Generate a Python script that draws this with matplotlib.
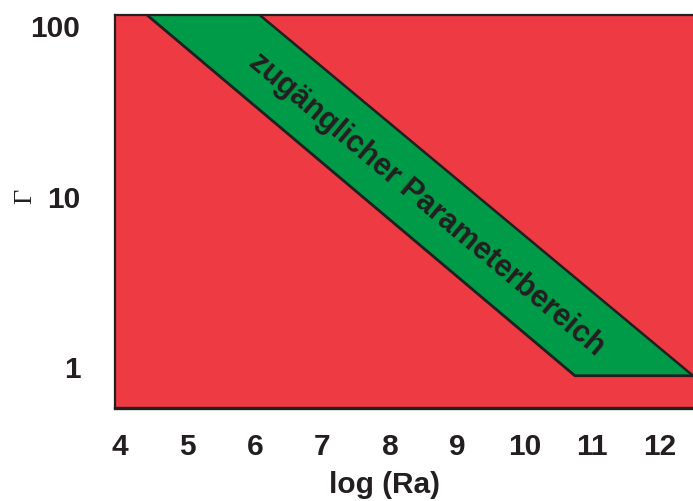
import matplotlib
matplotlib.use("Agg")
import matplotlib.pyplot as plt

# Accessible parameter band in the (log Ra, Gamma) plane
band_ra = [4.40, 6.07, 12.49, 10.74]
band_gamma = [115.0, 115.0, 0.88, 0.88]

x_ticks = [4, 5, 6, 7, 8, 9, 10, 11, 12]
x_tick_labels = ["4", "5", "6", "7", "8", "9", "10", "11", "12"]
y_ticks = [1, 10, 100]
y_tick_labels = ["1", "10", "100"]

band_label = "zugänglicher Parameterbereich"

RED = "#EE3A43"
GREEN = "#009B48"
INK = "#231F20"

plt.rcParams["font.family"] = ["Liberation Sans", "DejaVu Sans"]

fig = plt.figure(figsize=(6.93, 5.02), dpi=100)
ax = fig.add_axes([115 / 693, 93 / 502, 578 / 693, 393 / 502])
ax.set_facecolor(RED)
ax.set_yscale("log")
ax.set_xlim(3.926, 12.49)
ax.set_ylim(0.569, 115.0)

# green band
ax.fill(band_ra, band_gamma, color=GREEN, lw=0, zorder=1)
# band outlines: lower diagonal + floor, upper diagonal
ax.plot([band_ra[0], band_ra[3], band_ra[2]],
        [band_gamma[0], band_gamma[3], band_gamma[2]],
        color=INK, lw=2.0, solid_joinstyle="miter", zorder=2)
ax.plot([band_ra[1], band_ra[2]], [band_gamma[1], band_gamma[2]],
        color=INK, lw=1.8, zorder=2)

ax.text(8.55, 9.06, band_label, rotation=-40, rotation_mode="anchor",
        ha="center", va="center", fontsize=22, fontweight="bold",
        color=INK, zorder=3)

ax.set_xticks(x_ticks)
ax.set_xticklabels(x_tick_labels)
ax.set_yticks(y_ticks)
ax.set_yticklabels(y_tick_labels)
ax.minorticks_off()
ax.tick_params(axis="x", length=0, pad=17, labelsize=21.5, labelcolor=INK)
ax.tick_params(axis="y", length=0, pad=25, labelsize=21.5, labelcolor=INK)
for lab in ax.get_xticklabels() + ax.get_yticklabels():
    lab.set_fontweight("bold")

for side in ("left", "top"):
    ax.spines[side].set_color(INK)
    ax.spines[side].set_linewidth(1.6)
ax.spines["bottom"].set_color(INK)
ax.spines["bottom"].set_linewidth(2.4)
ax.spines["right"].set_visible(False)

ax.text(-0.155, 0.542, "Γ", transform=ax.transAxes, rotation=90,
        ha="center", va="center", fontsize=19, color=INK,
        family=["Liberation Serif", "DejaVu Serif"])
ax.text(0.467, -0.193, "log (Ra)", transform=ax.transAxes,
        ha="center", va="center", fontsize=21.5, fontweight="bold", color=INK)

fig.savefig("out.png", dpi=100)
